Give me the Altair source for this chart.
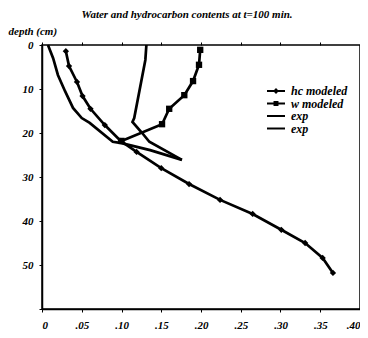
import altair as alt
import pandas as pd

# ---- data ----
hc_x = [0.030, 0.034, 0.044, 0.051, 0.061, 0.079, 0.099, 0.119, 0.150, 0.185, 0.224, 0.265, 0.301, 0.331, 0.353, 0.366]
hc_d = [1.4, 4.8, 8.4, 11.6, 14.5, 18.2, 21.8, 24.3, 28.0, 31.6, 35.2, 38.4, 42.0, 45.0, 48.4, 51.8]

w_x = [0.199, 0.1975, 0.190, 0.179, 0.160, 0.151, 0.100]
w_d = [1.1, 4.5, 8.2, 11.4, 14.5, 18.0, 21.8]

exp1_x = [0.1313, 0.130, 0.116, 0.1138, 0.126, 0.135, 0.176]
exp1_d = [0.0, 3.4, 16.6, 17.5, 20.0, 22.0, 26.1]

exp2_x = [0.0075, 0.014, 0.020, 0.029, 0.039, 0.050, 0.060, 0.089, 0.100, 0.136, 0.176]
exp2_d = [0.0, 3.0, 6.8, 10.5, 14.3, 16.6, 17.7, 22.0, 22.3, 23.9, 26.1]

series_names = ["hc modeled", "w modeled", "exp1", "exp2"]
x_ticks = [0, 0.05, 0.10, 0.15, 0.20, 0.25, 0.30, 0.35, 0.40]
y_ticks = [0, 10, 20, 30, 40, 50, 60]

rows = []
for name, xs, ds in [("hc modeled", hc_x, hc_d), ("w modeled", w_x, w_d),
                     ("exp1", exp1_x, exp1_d), ("exp2", exp2_x, exp2_d)]:
    for i, (xv, dv) in enumerate(zip(xs, ds)):
        rows.append({"series": name, "x": xv, "depth": dv, "i": i})
df = pd.DataFrame(rows)
df_pts = df[df["series"].isin(["hc modeled", "w modeled"])]
df_leg = pd.DataFrame({"series": series_names})

FONT = "Liberation Serif"

xscale = alt.Scale(domain=[0, 0.4], nice=False, zero=False)
yscale = alt.Scale(domain=[0, 60], reverse=True, nice=False, zero=False)

x_bottom = alt.X("x:Q", scale=xscale, axis=alt.Axis(
    orient="bottom", values=x_ticks, title=None,
    labelExpr="datum.value == 0 ? '0' : replace(format(datum.value, '.2f'), '0.', '.')",
    labelFont=FONT, labelFontSize=11, labelFontStyle="italic", labelFontWeight="bold",
    labelColor="black", labelPadding=7, tickSize=3, grid=False))

x_top = alt.X("x:Q", scale=xscale, axis=alt.Axis(
    orient="top", values=x_ticks, title=None, labels=False, domain=False,
    tickSize=3, grid=False))

y_left = alt.Y("depth:Q", scale=yscale, axis=alt.Axis(
    orient="left", values=y_ticks, grid=False, tickSize=3,
    labelExpr="datum.value == 60 ? '' : datum.label",
    labelFont=FONT, labelFontSize=11, labelFontStyle="italic", labelFontWeight="bold",
    labelColor="black", labelPadding=6,
    title="depth (cm)", titleAngle=0, titleX=-34, titleY=-14,
    titleAlign="left", titleBaseline="middle",
    titleFont=FONT, titleFontSize=11, titleFontStyle="italic", titleFontWeight="bold",
    titleColor="black"))

lines = alt.Chart(df).mark_line(color="black", strokeWidth=2.7).encode(
    x=x_bottom, y=y_left, detail="series:N", order="i:Q")

pts = alt.Chart(df_pts).mark_point(filled=True, color="black", opacity=1).encode(
    x=x_top, y=alt.Y("depth:Q", scale=yscale),
    shape=alt.Shape("series:N", scale=alt.Scale(domain=["hc modeled", "w modeled"],
                                                range=["diamond", "square"]), legend=None),
    size=alt.value(40))

# legend glyphs: a short thick bar (filled rectangle) plus marker
bar = "M-2,-0.22L2,-0.22L2,0.22L-2,0.22Z"
leg_paths = [
    bar + "M-0.65,0L0,-0.65L0.65,0L0,0.65Z",
    bar + "M-0.55,-0.55L0.55,-0.55L0.55,0.55L-0.55,0.55Z",
    bar,
    bar,
]

legend_layer = alt.Chart(df_leg).mark_point(filled=True, color="black", opacity=0).encode(
    shape=alt.Shape("series:N", scale=alt.Scale(domain=series_names, range=leg_paths),
                    legend=alt.Legend(
                        title=None, orient="none", legendX=228, legendY=40,
                        labelExpr="datum.label == 'exp1' || datum.label == 'exp2' ? 'exp' : datum.label",
                        labelFont=FONT, labelFontSize=12, labelFontStyle="italic",
                        labelFontWeight="bold", labelColor="black", labelOffset=9,
                        symbolSize=81, symbolFillColor="black", symbolStrokeColor="black",
                        symbolStrokeWidth=0, symbolOpacity=1, rowPadding=0.5, padding=0)))

chart = alt.layer(lines, pts, legend_layer).resolve_scale(
    shape="independent").resolve_axis(x="independent").properties(
    width=318, height=264,
    autosize=alt.AutoSizeParams(type="none"),
    padding={"left": 34, "top": 37, "right": 0, "bottom": 21},
    title=alt.TitleParams(
        "Water and hydrocarbon contents at t=100 min.",
        font=FONT, fontSize=11, fontStyle="italic", fontWeight="bold", color="black",
        anchor="middle", dx=-14, offset=5)
).configure_view(stroke="black", strokeWidth=1.5).configure_axis(
    domainColor="black", domainWidth=1.5, tickColor="black", tickWidth=1)

chart.save("out.html", embed_options={"renderer": "svg", "actions": False})
